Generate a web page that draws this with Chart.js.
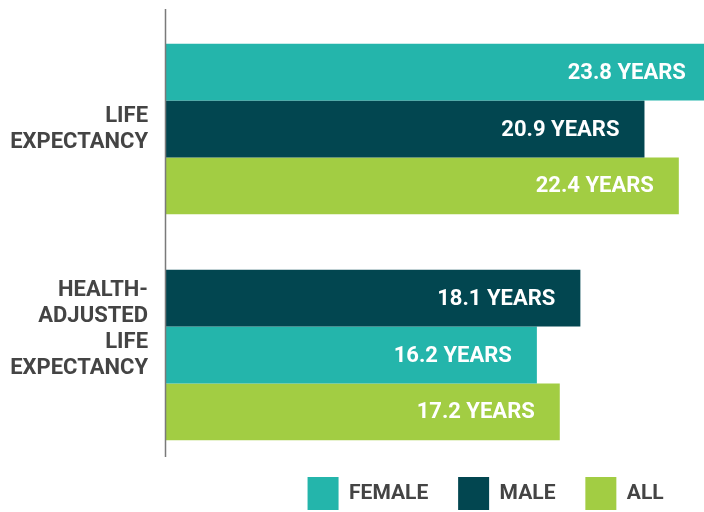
<!DOCTYPE html>
<html>
<head>
<meta charset="utf-8">
<script src="https://cdn.jsdelivr.net/npm/chart.js@4/dist/chart.umd.min.js"></script>
<style>
    html, body { margin: 0; padding: 0; background: #ffffff; }
    #wrap { width: 704px; height: 512px; position: relative; }
</style>
</head>
<body>
<div id="wrap"><canvas id="chart"></canvas></div>
<script>
// Categories (tick labels, one line per entry)
const categories = [
    ['LIFE', 'EXPECTANCY'],
    ['HEALTH-', 'ADJUSTED', 'LIFE', 'EXPECTANCY']
];

// Series values, in years
const femaleYears = [23.8, 16.2];
const maleYears = [20.9, 18.1];
const allYears = [22.4, 17.2];

// Legend order and colours
const groups = ['FEMALE', 'MALE', 'ALL'];
const groupColors = ['#24b5ab', '#024650', '#a2cd43'];

// Bar order inside each category, top to bottom (the source swaps female/male in the second block)
const barOrder = [
    ['FEMALE', 'MALE', 'ALL'],
    ['MALE', 'FEMALE', 'ALL']
];

const valuesByGroup = { FEMALE: femaleYears, MALE: maleYears, ALL: allYears };
const colorByGroup = {};
groups.forEach((g, i) => { colorByGroup[g] = groupColors[i]; });

const FONT = 'Roboto';
const labelGray = '#444444';

// One dataset per bar slot in a category
const datasets = [0, 1, 2].map(pos => ({
    label: 'slot ' + pos,
    data: categories.map((c, i) => valuesByGroup[barOrder[i][pos]][i]),
    backgroundColor: categories.map((c, i) => colorByGroup[barOrder[i][pos]]),
    borderWidth: 0,
    barPercentage: 1.0,
    categoryPercentage: 0.755,
    clip: false
}));

// Axis rule drawn at the left edge of the plot
const axisLine = {
    id: 'axisLine',
    afterDraw(chart) {
        const { ctx, chartArea } = chart;
        ctx.save();
        ctx.strokeStyle = '#7a7a7a';
        ctx.lineWidth = 1.5;
        ctx.beginPath();
        ctx.moveTo(chartArea.left - 0.5, chartArea.top - 7);
        ctx.lineTo(chartArea.left - 0.5, chartArea.bottom - 11);
        ctx.stroke();
        ctx.restore();
    }
};

// Value labels inside the bar ends
const valueLabels = {
    id: 'valueLabels',
    afterDatasetsDraw(chart) {
        const { ctx } = chart;
        ctx.save();
        ctx.font = 'bold 22px ' + FONT;
        ctx.fillStyle = '#ffffff';
        ctx.textAlign = 'right';
        ctx.textBaseline = 'middle';
        chart.data.datasets.forEach((ds, di) => {
            chart.getDatasetMeta(di).data.forEach((bar, i) => {
                ctx.fillText(ds.data[i].toFixed(1) + ' YEARS', bar.x - 25, bar.y + 1);
            });
        });
        ctx.restore();
    }
};

new Chart(document.getElementById('chart').getContext('2d'), {
    type: 'bar',
    data: {
        labels: categories,
        datasets: datasets
    },
    options: {
        indexAxis: 'y',
        responsive: true,
        maintainAspectRatio: false,
        animation: false,
        layout: {
            padding: { top: 16, bottom: -8, left: 0, right: 0 }
        },
        scales: {
            x: {
                display: false,
                min: 0,
                max: 23.5
            },
            y: {
                grid: { display: false, drawTicks: false },
                border: { display: false },
                ticks: {
                    color: labelGray,
                    padding: 18,
                    font: { family: FONT, size: 22, weight: 'bold', lineHeight: 26 / 22 },
                    callback: function(value, index) {
                        const lines = categories[index].slice();
                        if (lines.length > 2) { lines.push('', ''); }
                        return lines;
                    }
                },
                afterFit(scale) {
                    scale.width = 166;
                    scale.paddingTop = 0;
                    scale.paddingBottom = 0;
                }
            }
        },
        plugins: {
            tooltip: { enabled: false },
            legend: {
                position: 'bottom',
                align: 'end',
                onClick: null,
                labels: {
                    boxWidth: 31,
                    boxHeight: 33,
                    padding: 9,
                    color: labelGray,
                    font: { family: FONT, size: 21, weight: 'bold' },
                    generateLabels: function() {
                        return groups.map((g, i) => ({
                            text: g + (i === groups.length - 1 ? '\u00a0\u00a0\u00a0\u00a0\u00a0\u00a0' : '\u00a0\u00a0\u00a0\u00a0'),
                            fillStyle: groupColors[i],
                            strokeStyle: groupColors[i],
                            lineWidth: 0,
                            fontColor: labelGray,
                            datasetIndex: i
                        }));
                    }
                }
            }
        }
    },
    plugins: [axisLine, valueLabels]
});
</script>
</body>
</html>
